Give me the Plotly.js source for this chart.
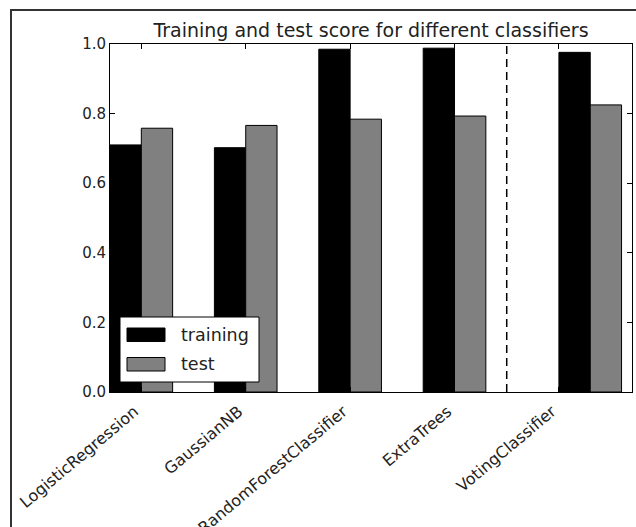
<!DOCTYPE html>
<html>
<head>
<meta charset="utf-8">
<script src="https://cdn.plot.ly/plotly-3.0.1.min.js"></script>
<style>
  html, body { margin: 0; padding: 0; background: #fff; }
  #wrap { position: relative; width: 636px; height: 527px; }
  #chart { position: absolute; left: 0; top: 0; width: 636px; height: 527px; }
  #frame { position: absolute; left: 10px; top: 9px; right: -5px; bottom: -5px;
           border-top: 2px solid #333; border-left: 2px solid #333; pointer-events: none; }
</style>
</head>
<body>
<div id="wrap">
  <div id="chart"></div>
  <div id="frame"></div>
</div>
<script>
// ---- data ----
const classifiers = ["LogisticRegression", "GaussianNB", "RandomForestClassifier", "ExtraTrees", "VotingClassifier"];
const trainingScores = [0.710, 0.702, 0.985, 0.988, 0.976];
const testScores = [0.758, 0.766, 0.784, 0.793, 0.825];
const seriesNames = ["training", "test"];
const chartTitle = "Training and test score for different classifiers";

// ---- layout helpers ----
const barWidth = 0.3;
const votingShift = 0.3;               // voting group placed slightly apart
const separatorX = 3.8;                // dashed separator before the ensemble
const basePos = classifiers.map((c, i) => i + (i === classifiers.length - 1 ? votingShift : 0));
const trainX = basePos.slice();
const testX = basePos.map(p => p + barWidth);
const tickPos = classifiers.map((c, i) => i + barWidth);

const traces = [
  {
    type: "bar", name: seriesNames[0], x: trainX, y: trainingScores,
    width: barWidth, offset: 0,
    marker: { color: "#000000", line: { color: "#000000", width: 1 } },
    showlegend: false, hoverinfo: "y"
  },
  {
    type: "bar", name: seriesNames[1], x: testX, y: testScores,
    width: barWidth, offset: 0,
    marker: { color: "#808080", line: { color: "#000000", width: 1 } },
    showlegend: false, hoverinfo: "y"
  }
];

const W = 636, H = 527;
const L = 110, R = 4, T = 44, B = 135;
const pw = W - L - R, ph = H - T - B;
const px = v => (v - L) / pw;          // pixel -> paper x
const py = v => (T + ph - v) / ph;     // pixel -> paper y

const font = "DejaVu Sans, sans-serif";

const layout = {
  width: W, height: H,
  margin: { l: L, r: R, t: T, b: B, pad: 0 },
  paper_bgcolor: "#ffffff", plot_bgcolor: "#ffffff",
  font: { family: font, color: "#222", size: 15 },
  title: {
    text: chartTitle,
    font: { family: font, size: 19, color: "#222" },
    x: (L + pw / 2) / W, xanchor: "center",
    y: 1 - 30 / H, yanchor: "middle", yref: "container"
  },
  barmode: "overlay",
  showlegend: false,
  xaxis: {
    range: [0, 5],
    tickmode: "array", tickvals: tickPos, ticktext: classifiers,
    tickangle: -40,
    ticklabelshift: -7, ticklabelstandoff: 3,
    ticks: "inside", ticklen: 5, tickcolor: "#000", tickwidth: 1,
    showline: true, linecolor: "#000", linewidth: 1, mirror: "allticks",
    showgrid: false, zeroline: false,
    tickfont: { family: font, size: 16, color: "#222" }
  },
  yaxis: {
    range: [0, 1],
    tickmode: "linear", tick0: 0, dtick: 0.2, tickformat: ".1f",
    ticks: "inside", ticklen: 5, tickcolor: "#000", tickwidth: 1,
    showline: true, linecolor: "#000", linewidth: 1, mirror: "allticks",
    showgrid: false, zeroline: false,
    tickfont: { family: font, size: 15, color: "#222" }
  },
  shapes: [
    { type: "line", xref: "x", yref: "paper", x0: separatorX, x1: separatorX, y0: 0, y1: 1,
      line: { color: "#000", width: 1.5, dash: "8px,5px" }, layer: "above" },
    // legend box
    { type: "rect", xref: "paper", yref: "paper", x0: px(120), x1: px(259), y0: py(382), y1: py(317),
      fillcolor: "#fff", line: { color: "#000", width: 1 }, layer: "above" },
    { type: "rect", xref: "paper", yref: "paper", x0: px(127), x1: px(165), y0: py(341.5), y1: py(328),
      fillcolor: "#000", line: { color: "#000", width: 1 }, layer: "above" },
    { type: "rect", xref: "paper", yref: "paper", x0: px(127), x1: px(165), y0: py(371), y1: py(357.5),
      fillcolor: "#808080", line: { color: "#000", width: 1 }, layer: "above" }
  ],
  annotations: [
    { xref: "paper", yref: "paper", x: px(179), y: py(334.5), xanchor: "left", yanchor: "middle",
      text: seriesNames[0], showarrow: false, font: { family: font, size: 17.5, color: "#222" } },
    { xref: "paper", yref: "paper", x: px(179), y: py(364), xanchor: "left", yanchor: "middle",
      text: seriesNames[1], showarrow: false, font: { family: font, size: 17.5, color: "#222" } }
  ]
};

Plotly.newPlot("chart", traces, layout, { staticPlot: true, displayModeBar: false });
</script>
</body>
</html>
